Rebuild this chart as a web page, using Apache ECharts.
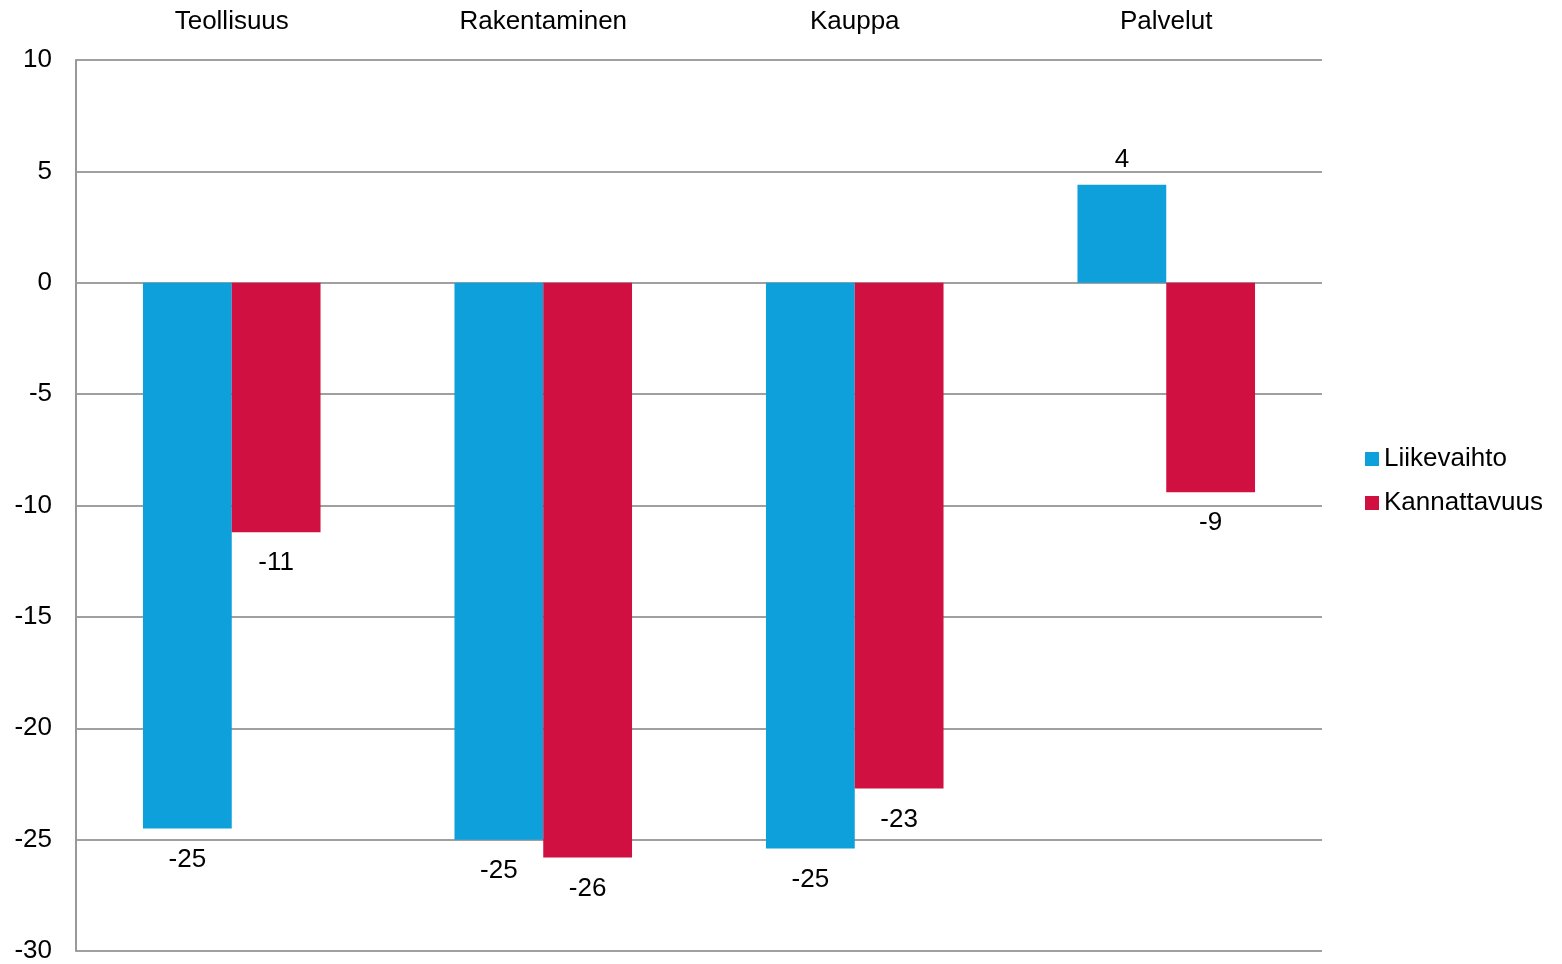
<!DOCTYPE html>
<html><head><meta charset="utf-8">
<script src="https://cdn.jsdelivr.net/npm/echarts@6/dist/echarts.min.js"></script>
<style>html,body{margin:0;padding:0;background:#fff}#c{width:1562px;height:964px}</style>
</head><body><div id="c"></div>
<script>
const categories = ['Teollisuus', 'Rakentaminen', 'Kauppa', 'Palvelut'];
const liikevaihto = [-24.5, -25.0, -25.4, 4.4];
const kannattavuus = [-11.2, -25.8, -22.7, -9.4];
const yTicks = [-30, -25, -20, -15, -10, -5, 0, 5, 10];

const font = 'Liberation Sans, Arial, sans-serif';
function fmt(v){ const r = Math.sign(v) * Math.round(Math.abs(v)); return String(r); }
function mk(arr){
  return arr.map(v => ({value: v, label: {position: v < 0 ? 'bottom' : 'top', distance: v < 0 ? 18 : 12}}));
}
const chart = echarts.init(document.getElementById('c'));
chart.setOption({
  animation: false,
  textStyle: {fontFamily: font},
  grid: {left: 76, right: 240, top: 60, bottom: 12, containLabel: false},
  legend: {
    orient: 'vertical', left: 1360, top: 441, itemWidth: 14, itemHeight: 14, itemGap: 18,
    icon: 'rect',
    textStyle: {fontSize: 26, color: '#000', fontFamily: font, padding: [0,0,0,0]},
    data: ['Liikevaihto', 'Kannattavuus']
  },
  xAxis: {
    type: 'category', position: 'top', data: categories,
    axisLine: {show: false}, axisTick: {show: false},
    axisLabel: {fontSize: 26, color: '#000', margin: 25, fontFamily: font}
  },
  yAxis: {
    type: 'value', min: -30, max: 10, interval: 5,
    axisLine: {show: true, lineStyle: {color: '#999', width: 2}},
    axisTick: {show: false},
    axisLabel: {fontSize: 26, color: '#000', margin: 24, fontFamily: font,
      formatter: v => String(yTicks.includes(v) ? v : v)},
    splitLine: {lineStyle: {color: '#a0a0a0', width: 2}}
  },
  series: [
    {name: 'Liikevaihto', type: 'bar', data: mk(liikevaihto), itemStyle: {color: '#0EA0DA'},
     barGap: '0%', barCategoryGap: '43%',
     label: {show: true, fontSize: 26, color: '#000', fontFamily: font, formatter: p => fmt(p.value)}},
    {name: 'Kannattavuus', type: 'bar', data: mk(kannattavuus), itemStyle: {color: '#D01040'},
     barGap: '0%', barCategoryGap: '43%',
     label: {show: true, fontSize: 26, color: '#000', fontFamily: font, formatter: p => fmt(p.value)}}
  ]
});
</script></body></html>
